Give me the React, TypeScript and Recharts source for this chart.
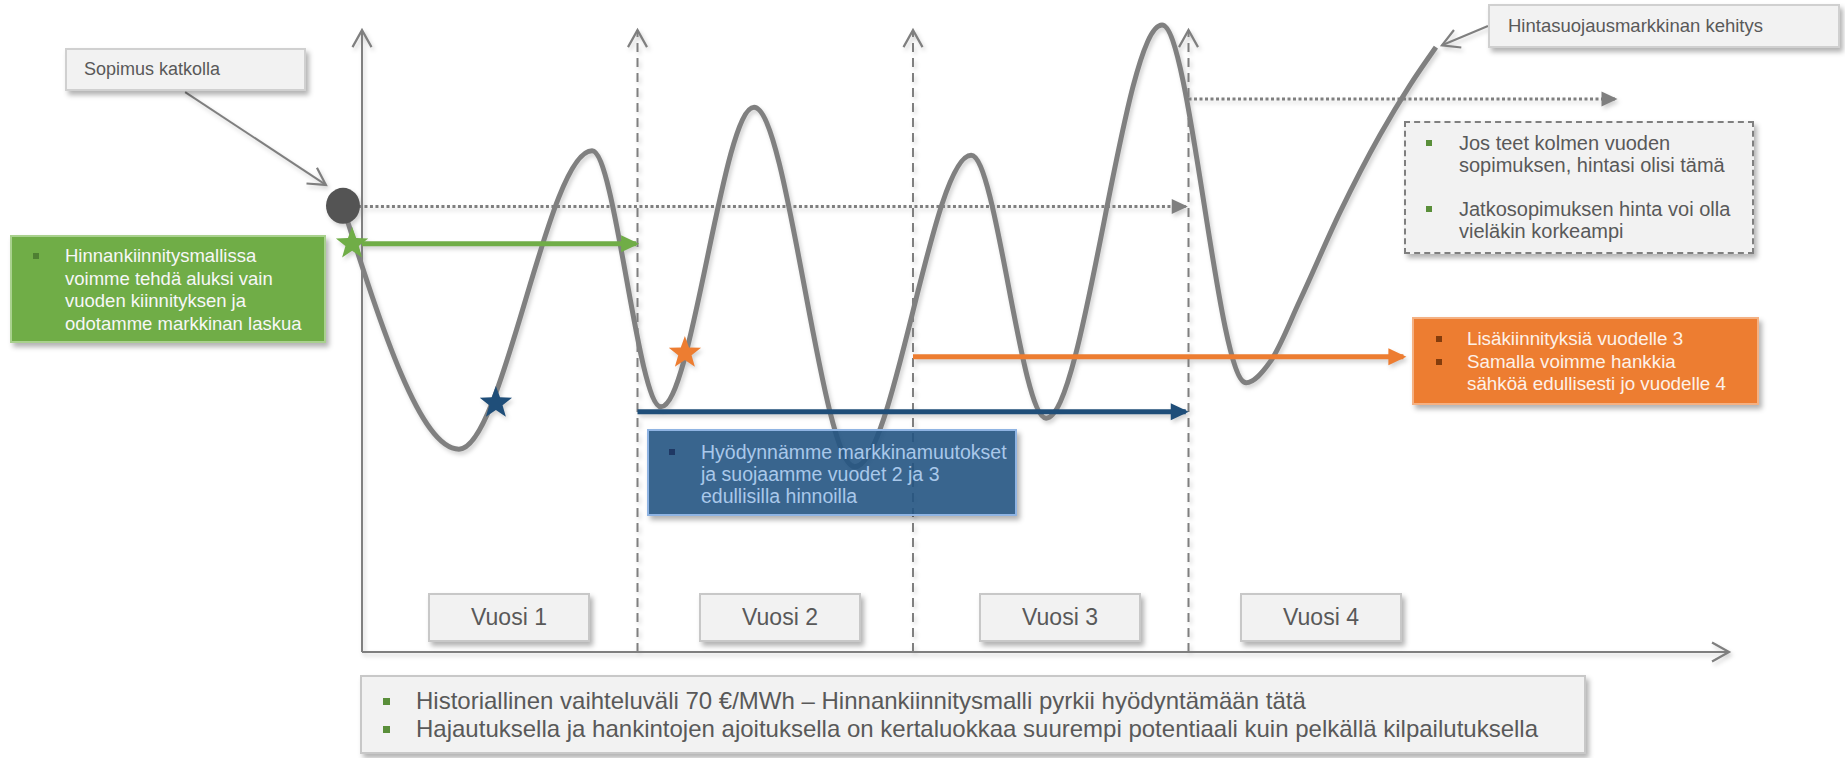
import React from 'react';
import { ComposedChart, Line, Scatter, XAxis, YAxis } from 'recharts';

// ---------- data (t = years from start, p = price index) ----------
const priceCurve = [
  { t: -0.069, p: 70.4 },
  { t: 0.352, p: 32.1 },
  { t: 0.835, p: 79.3 },
  { t: 1.085, p: 38.8 },
  { t: 1.423, p: 86.2 },
  { t: 1.789, p: 29.3 },
  { t: 2.211, p: 78.6 },
  { t: 2.483, p: 37.0 },
  { t: 2.904, p: 99.2 },
  { t: 3.209, p: 42.6 },
  { t: 3.296, p: 45.9 },
  { t: 3.405, p: 55.7 },
  { t: 3.55, p: 69.6 },
  { t: 3.695, p: 81.8 },
  { t: 3.804, p: 89.7 },
  { t: 3.898, p: 95.7 },
];
const contractPoint = [{ t: -0.069, p: 70.6 }];
const contractLine = [{ t: -0.051, p: 70.5 }, { t: 2.99, p: 70.5 }];
const renewalLine = [{ t: 3.0, p: 87.5 }, { t: 4.55, p: 87.5 }];
const greenHedge = [{ t: 0, p: 64.6 }, { t: 0.995, p: 64.6 }];
const blueHedge = [{ t: 1.0, p: 38.0 }, { t: 2.99, p: 38.0 }];
const orangeHedge = [{ t: 2.0, p: 46.7 }, { t: 3.78, p: 46.7 }];
const greenStar = [{ t: -0.036, p: 64.6 }];
const blueStar = [{ t: 0.486, p: 39.4 }];
const orangeStar = [{ t: 1.172, p: 47.3 }];
const yAxisLine = [{ t: 0, p: 0 }, { t: 0, p: 98.4 }];
const xAxisLine = [{ t: 0, p: 0 }, { t: 4.962, p: 0 }];
const yearDividers = [1, 2, 3];
const dividerTop = 98.4;
const calloutSopimus = [{ t: -0.642, p: 88.6 }, { t: -0.131, p: 73.9 }];
const calloutHinta = [{ t: 4.087, p: 99.05 }, { t: 3.92, p: 96.0 }];

const yearLabels = ['Vuosi 1', 'Vuosi 2', 'Vuosi 3', 'Vuosi 4'];
const noteSopimus = 'Sopimus katkolla';
const noteHinta = 'Hintasuojausmarkkinan kehitys';
const noteGreen = [['Hinnankiinnitysmallissa', 'voimme tehdä aluksi vain', 'vuoden kiinnityksen ja', 'odotamme markkinan laskua']];
const noteBlue = [['Hyödynnämme markkinamuutokset', 'ja suojaamme vuodet 2 ja 3', 'edullisilla hinnoilla']];
const noteOrange = [['Lisäkiinnityksiä vuodelle 3'], ['Samalla voimme hankkia', 'sähköä edullisesti jo vuodelle 4']];
const noteDashed = [['Jos teet kolmen vuoden', 'sopimuksen, hintasi olisi tämä'], ['Jatkosopimuksen hinta voi olla', 'vieläkin korkeampi']];
const noteBottom = [
  ['Historiallinen vaihteluväli 70 €/MWh – Hinnankiinnitysmalli pyrkii hyödyntämään tätä'],
  ['Hajautuksella ja hankintojen ajoituksella on kertaluokkaa suurempi potentiaali kuin pelkällä kilpailutuksella'],
];

// ---------- layout ----------
const W = 1845;
const H = 758;
const PX_PER_YEAR = 275.5;
const ORIGIN_X = 362;
const PX_PER_P = 6.32;
const ORIGIN_Y = 652;
const xDomain = [-ORIGIN_X / PX_PER_YEAR, (W - ORIGIN_X) / PX_PER_YEAR];
const yDomain = [-(H - ORIGIN_Y) / PX_PER_P, ORIGIN_Y / PX_PER_P];

const FONT = '"Liberation Sans", Arial, sans-serif';
const GRAY = '#7f7f7f';
const TEXT_GRAY = '#595959';
const SHADOW = '3px 4px 5px rgba(0,0,0,0.30)';

const yearBoxLayout = [428, 699, 979, 1240];

function makeStar(fill: string) {
  return (props: any) => {
    const { cx, cy } = props;
    const pts: string[] = [];
    for (let i = 0; i < 10; i++) {
      const a = -Math.PI / 2 + (i * Math.PI) / 5;
      const r = i % 2 === 0 ? 17 : 7;
      pts.push(`${cx + r * Math.cos(a)},${cy + r * Math.sin(a)}`);
    }
    return <polygon points={pts.join(' ')} fill={fill} />;
  };
}

const dotShape = (props: any) => <ellipse cx={props.cx} cy={props.cy} rx={17} ry={18} fill="#545454" />;

function Box(props: any) {
  const { left, top, width, height, bg, border, dashed, children, style } = props;
  return (
    <div
      style={{
        position: 'absolute',
        left,
        top,
        width,
        height,
        boxSizing: 'border-box',
        background: bg,
        border: `2px ${dashed ? 'dashed' : 'solid'} ${border}`,
        boxShadow: SHADOW,
        fontFamily: FONT,
        ...style,
      }}
    >
      {children}
    </div>
  );
}

function Bullets(props: any) {
  const { items, top, bulletLeft, textLeft, lineHeight, fontSize, color, bulletColor, bulletSize, gap } = props;
  let y = top;
  const out: any[] = [];
  items.forEach((lines: string[], i: number) => {
    out.push(
      <div
        key={'b' + i}
        style={{
          position: 'absolute',
          left: bulletLeft,
          top: y + lineHeight / 2 - bulletSize / 2,
          width: bulletSize,
          height: bulletSize,
          background: bulletColor,
        }}
      />
    );
    out.push(
      <div
        key={'t' + i}
        style={{
          position: 'absolute',
          left: textLeft,
          top: y,
          fontSize,
          lineHeight: lineHeight + 'px',
          color,
          whiteSpace: 'nowrap',
        }}
      >
        {lines.map((l, j) => (
          <div key={j}>{l}</div>
        ))}
      </div>
    );
    y += lines.length * lineHeight + gap;
  });
  return <>{out}</>;
}

const lineProps = { dot: false, activeDot: false, isAnimationActive: false, dataKey: 'p', type: 'linear' as const };

export default function App() {
  return (
    <div style={{ position: 'absolute', left: 0, top: 0, width: W, height: H, background: '#fff', fontFamily: FONT }}>
      <svg width={0} height={0} style={{ position: 'absolute' }}>
        <defs>
          <marker id="chev" viewBox="0 0 20 22" refX={18} refY={11} markerWidth={20} markerHeight={22} markerUnits="userSpaceOnUse" orient="auto" overflow="visible">
            <path d="M1,1.5 L18,11 L1,20.5" fill="none" stroke={GRAY} strokeWidth={2.2} />
          </marker>
          <marker id="triGray" viewBox="0 0 16 16" refX={14} refY={8} markerWidth={16} markerHeight={16} markerUnits="userSpaceOnUse" orient="auto" overflow="visible">
            <path d="M0,0.5 L16,8 L0,15.5 Z" fill={GRAY} />
          </marker>
          <marker id="triGreen" viewBox="0 0 18 18" refX={15} refY={9} markerWidth={18} markerHeight={18} markerUnits="userSpaceOnUse" orient="auto" overflow="visible">
            <path d="M0,0.5 L18,9 L0,17.5 Z" fill="#70ad47" />
          </marker>
          <marker id="triBlue" viewBox="0 0 18 18" refX={15} refY={9} markerWidth={18} markerHeight={18} markerUnits="userSpaceOnUse" orient="auto" overflow="visible">
            <path d="M0,0.5 L18,9 L0,17.5 Z" fill="#1f4e79" />
          </marker>
          <marker id="triOrange" viewBox="0 0 18 18" refX={15} refY={9} markerWidth={18} markerHeight={18} markerUnits="userSpaceOnUse" orient="auto" overflow="visible">
            <path d="M0,0.5 L18,9 L0,17.5 Z" fill="#ed7d31" />
          </marker>
        </defs>
      </svg>

      <div style={{ position: 'absolute', left: 0, top: 0, filter: 'drop-shadow(2px 3px 2px rgba(0,0,0,0.18))' }}>
        <ComposedChart width={W} height={H} margin={{ top: 0, right: 0, bottom: 0, left: 0 }}>
          <XAxis type="number" dataKey="t" domain={xDomain} hide allowDataOverflow />
          <YAxis type="number" dataKey="p" domain={yDomain} hide allowDataOverflow />

          {yearDividers.map((d) => (
            <Line
              key={'div' + d}
              {...lineProps}
              data={[{ t: d, p: 0 }, { t: d, p: dividerTop }]}
              stroke={GRAY}
              strokeWidth={2}
              strokeDasharray="9 6"
              markerEnd="url(#chev)"
            />
          ))}
          <Line {...lineProps} data={yAxisLine} stroke={GRAY} strokeWidth={2} markerEnd="url(#chev)" />
          <Line {...lineProps} data={xAxisLine} stroke={GRAY} strokeWidth={2} markerEnd="url(#chev)" />
          <Line {...lineProps} data={calloutSopimus} stroke={GRAY} strokeWidth={2} markerEnd="url(#chev)" />
          <Line {...lineProps} data={calloutHinta} stroke={GRAY} strokeWidth={2} markerEnd="url(#chev)" />

          <Scatter data={contractPoint} dataKey="p" shape={dotShape} isAnimationActive={false} />
          <Line {...lineProps} data={contractLine} stroke={GRAY} strokeWidth={3} strokeDasharray="3 2.5" markerEnd="url(#triGray)" />
          <Line {...lineProps} data={renewalLine} stroke={GRAY} strokeWidth={3} strokeDasharray="3 2.5" markerEnd="url(#triGray)" />

          <Line {...lineProps} type="monotone" data={priceCurve} stroke="#808080" strokeWidth={5} />

          <Line {...lineProps} data={greenHedge} stroke="#70ad47" strokeWidth={5} markerEnd="url(#triGreen)" />
          <Line {...lineProps} data={blueHedge} stroke="#1f4e79" strokeWidth={5} markerEnd="url(#triBlue)" />
          <Line {...lineProps} data={orangeHedge} stroke="#ed7d31" strokeWidth={5} markerEnd="url(#triOrange)" />

          <Scatter data={greenStar} dataKey="p" shape={makeStar('#70ad47')} isAnimationActive={false} />
          <Scatter data={blueStar} dataKey="p" shape={makeStar('#1f4e79')} isAnimationActive={false} />
          <Scatter data={orangeStar} dataKey="p" shape={makeStar('#ed7d31')} isAnimationActive={false} />
        </ComposedChart>
      </div>

      {/* callouts */}
      <Box left={65} top={48} width={241} height={43} bg="#f2f2f2" border="#d0d0d0">
        <div style={{ position: 'absolute', left: 17, top: 0, lineHeight: '39px', fontSize: 18, color: TEXT_GRAY, whiteSpace: 'nowrap' }}>{noteSopimus}</div>
      </Box>
      <Box left={1488} top={4} width={352} height={44} bg="#f2f2f2" border="#d0d0d0">
        <div style={{ position: 'absolute', left: 18, top: 0, lineHeight: '40px', fontSize: 18.5, color: TEXT_GRAY, whiteSpace: 'nowrap' }}>{noteHinta}</div>
      </Box>

      <Box left={10} top={235} width={316} height={108} bg="#70ad47" border="#a9d18e">
        <Bullets items={noteGreen} top={8} bulletLeft={21} textLeft={53} lineHeight={22.7} fontSize={18.5} color="#f7f7f7" bulletColor="#4e7f32" bulletSize={6} gap={0} />
      </Box>

      <Box left={647} top={429} width={370} height={87} bg="rgba(36,84,130,0.9)" border="#8fb4e3">
        <Bullets items={noteBlue} top={10} bulletLeft={20} textLeft={52} lineHeight={22} fontSize={19.5} color="#a9c8ea" bulletColor="#1f3864" bulletSize={6} gap={0} />
      </Box>

      <Box left={1412} top={317} width={347} height={88} bg="#ed7d31" border="#f4b183">
        <Bullets items={noteOrange} top={9} bulletLeft={22} textLeft={53} lineHeight={22.5} fontSize={18.8} color="#fdf1e8" bulletColor="#843c0c" bulletSize={6} gap={0} />
      </Box>

      <Box left={1404} top={121} width={350} height={133} bg="#f2f2f2" border="#7f7f7f" dashed>
        <Bullets items={noteDashed} top={9} bulletLeft={20} textLeft={53} lineHeight={22} fontSize={20} color={TEXT_GRAY} bulletColor="#5a8f3a" bulletSize={6} gap={22} />
      </Box>

      {yearLabels.map((lab, i) => (
        <Box key={lab} left={yearBoxLayout[i]} top={593} width={162} height={49} bg="#f2f2f2" border="#c8c8c8">
          <div style={{ textAlign: 'center', lineHeight: '45px', fontSize: 23, color: TEXT_GRAY }}>{lab}</div>
        </Box>
      ))}

      <Box left={360} top={675} width={1226} height={79} bg="#f2f2f2" border="#c8c8c8">
        <Bullets items={noteBottom} top={10} bulletLeft={21} textLeft={54} lineHeight={28} fontSize={24} color={TEXT_GRAY} bulletColor="#5a8f3a" bulletSize={7} gap={0} />
      </Box>
    </div>
  );
}
